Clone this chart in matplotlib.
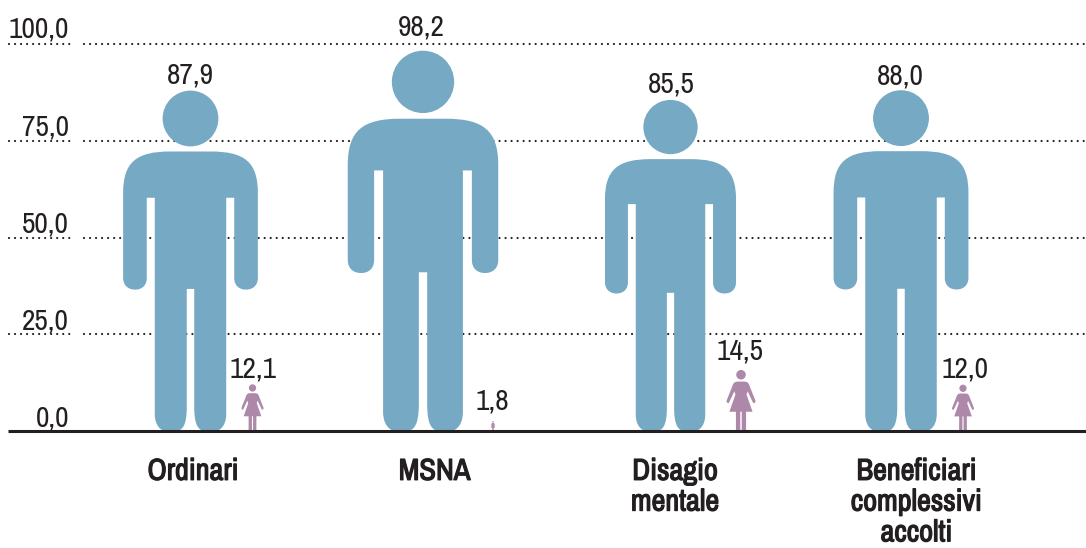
import matplotlib
matplotlib.use("Agg")
import matplotlib.pyplot as plt
import matplotlib.patheffects as pe
from matplotlib import font_manager as fm
from matplotlib.path import Path
from matplotlib.patches import PathPatch, Ellipse

categories = ["Ordinari", "MSNA", "Disagio\nmentale", "Beneficiari\ncomplessivi\naccolti"]
men_values = [87.9, 98.2, 85.5, 88.0]
women_values = [12.1, 1.8, 14.5, 12.0]
# height at which the small figures are actually drawn in the source graphic
women_drawn = [12.1, 2.6, 15.8, 12.0]
men_labels = ["87,9", "98,2", "85,5", "88,0"]
women_labels = ["12,1", "1,8", "14,5", "12,0"]
y_ticks = [0, 25, 50, 75, 100]
y_tick_labels = ["0,0", "25,0", "50,0", "75,0", "100,0"]
y_label_lift = [1.2, 1.3, 1.3, 1.3, 1.8]

men_x = [190.5, 423, 670.5, 901]
women_x = [252.5, 493, 741, 963]
men_label_x = [190, 421, 671, 900]
women_label_x = [253, 492, 740, 965]
men_label_y = [92.0, 104.5, 89.8, 91.8]
women_label_y = [16.0, 7.8, 20.7, 16.0]
cat_x = [193, 434.5, 675, 916.5]

BLUE = "#76A9C3"
MAUVE = "#AE88A9"
INK = "#231F20"
PX_PER_UNIT = 3.87

names = {f.name for f in fm.fontManager.ttflist}
FONT = next((n for n in ["Archivo Narrow", "Roboto Condensed", "Liberation Sans Narrow", "Liberation Sans"]
             if n in names), "DejaVu Sans")


def mirrored(start, segs):
    verts, codes, ends = [start], [Path.MOVETO], [start]
    for s in segs:
        verts += s
        codes += [Path.LINETO] if len(s) == 1 else [Path.CURVE4] * 3
        ends.append(s[-1])
    m = lambda p: (-p[0], p[1])
    for i in range(len(segs) - 1, -1, -1):
        s = segs[i]
        if len(s) == 1:
            verts.append(m(ends[i]))
            codes.append(Path.LINETO)
        else:
            verts += [m(s[1]), m(s[0]), m(ends[i])]
            codes += [Path.CURVE4] * 3
    verts.append(start)
    codes.append(Path.CLOSEPOLY)
    return verts, codes


MAN = mirrored((0, .822), [
    [(.06, .822)],
    [(.16, .822), (.198, .79), (.198, .70)],
    [(.198, .45)],
    [(.198, .43), (.185, .416), (.163, .416)],
    [(.141, .416), (.1286, .43), (.1286, .45)],
    [(.1286, .686)],
    [(.105, .686)],
    [(.105, .05)],
    [(.105, .02), (.09, 0), (.07, 0)],
    [(.045, 0)],
    [(.022, 0), (.011, .02), (.011, .07)],
    [(.011, .418)],
    [(0, .418)],
])
WOMAN = mirrored((0, .81), [
    [(.05, .81)],
    [(.10, .81), (.125, .79), (.14, .74)],
    [(.235, .50)],
    [(.245, .46), (.20, .44), (.19, .48)],
    [(.11, .65)],
    [(.09, .60)],
    [(.189, .317)],
    [(.083, .317)],
    [(.083, 0)],
    [(.012, 0)],
    [(.012, .317)],
    [(0, .317)],
])


def person(ax, cx, h, glyph, head_y, head_r, color):
    xs = PX_PER_UNIT * h
    v = [(cx + x * xs, y * h) for x, y in glyph[0]]
    ax.add_patch(PathPatch(Path(v, glyph[1]), fc=color, ec="none", zorder=3))
    ax.add_patch(Ellipse((cx, head_y * h), 2 * head_r * xs, 2 * head_r * h, fc=color, ec="none", zorder=3))


fig = plt.figure(figsize=(10.86, 5.48), dpi=100)
ax = fig.add_axes([0, 0, 1, 1])
ax.set_xlim(0, 1086)
ax.set_ylim(-30.2, 111.4)
ax.axis("off")

for t, lab, lift in zip(y_ticks, y_tick_labels, y_label_lift):
    if t > 0:
        for x0, x1 in ((9, 72), (84, 1086)):
            ax.plot([x0, x1], [t, t], color=INK, lw=1.6, linestyle=(0, (0.01, 2.7)),
                    dash_capstyle="round", zorder=1)
    ax.text(69, t + lift, lab, ha="right", va="baseline", fontsize=21.2,
            family=FONT, color=INK, zorder=2)

ax.plot([8, 1086], [0, 0], color=INK, lw=2.2, solid_capstyle="butt", zorder=5)

for i in range(len(categories)):
    person(ax, men_x[i], men_values[i], MAN, .919, .082, BLUE)
    person(ax, women_x[i], women_drawn[i], WOMAN, .922, .078, MAUVE)
    ax.text(men_label_x[i], men_label_y[i], men_labels[i], ha="center", va="center",
            fontsize=21.2, family=FONT, color=INK, zorder=4)
    ax.text(women_label_x[i], women_label_y[i], women_labels[i], ha="center", va="center",
            fontsize=21.2, family=FONT, color=INK, zorder=4)
    ax.text(cat_x[i], -6.9, categories[i], ha="center", va="top", fontsize=21.8, family=FONT,
            weight="bold", color=INK, linespacing=1.17, zorder=4,
            path_effects=[pe.withStroke(linewidth=0.9, foreground=INK)])

fig.savefig("out.png", dpi=100)
